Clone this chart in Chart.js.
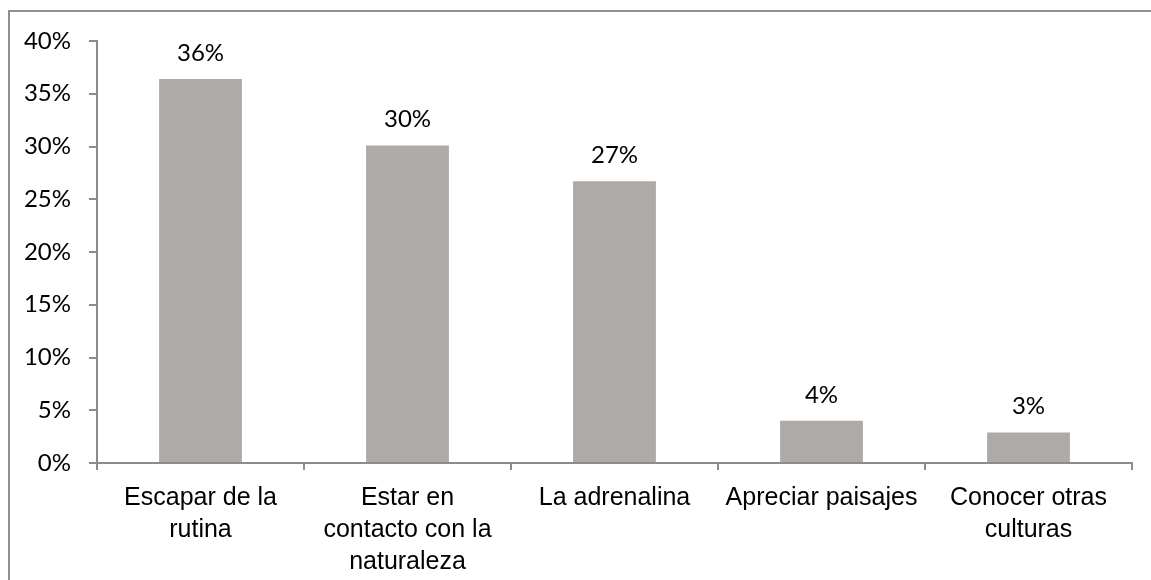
<!DOCTYPE html>
<html>
<head>
<meta charset="utf-8">
<script src="https://cdn.jsdelivr.net/npm/chart.js@4"></script>
<style>
  html, body { margin: 0; padding: 0; background: #fff; overflow: hidden; }
  .wrap { position: relative; width: 1151px; height: 580px; }
  .frame { position: absolute; left: 8px; top: 10px; width: 1200px; height: 700px; border: 2px solid #8f8f8f; box-sizing: border-box; }
  canvas { position: absolute; left: 0; top: 0; }
</style>
</head>
<body>
<div class="wrap">
  <div class="frame"></div>
  <canvas id="motivos" width="1151" height="580"></canvas>
</div>
<script>
// categories and values (percent)
const categorias = [
  ["Escapar de la", "rutina"],
  ["Estar en", "contacto con la", "naturaleza"],
  "La adrenalina",
  "Apreciar paisajes",
  ["Conocer otras", "culturas"],
];
const porcentajes = [36.4, 30.1, 26.7, 4.0, 2.9];
const yTicks = [0, 5, 10, 15, 20, 25, 30, 35, 40];

const axisGray = "#8c8c8c";
const numFont = "Lato, 'Open Sans', sans-serif";

// value labels above each bar
const etiquetas = {
  id: "etiquetas",
  afterDatasetsDraw(chart) {
    const ctx = chart.ctx;
    const meta = chart.getDatasetMeta(0);
    ctx.save();
    ctx.font = "24px " + numFont;
    ctx.fillStyle = "#000";
    ctx.textAlign = "center";
    ctx.textBaseline = "bottom";
    meta.data.forEach((bar, i) => {
      ctx.fillText(Math.round(porcentajes[i]) + "%", bar.x, bar.y - 14);
    });
    ctx.restore();
  },
};

new Chart(document.getElementById("motivos"), {
  type: "bar",
  data: {
    labels: categorias,
    datasets: [
      {
        data: porcentajes,
        backgroundColor: "#aeaaa8",
        borderWidth: 0,
        categoryPercentage: 1,
        barPercentage: 0.4,
      },
    ],
  },
  options: {
    responsive: false,
    animation: false,
    layout: { padding: { top: 41, right: 19, left: 0, bottom: 0 } },
    plugins: { legend: { display: false }, tooltip: { enabled: false } },
    scales: {
      y: {
        min: 0,
        max: 40,
        afterBuildTicks: (scale) => {
          scale.ticks = yTicks.map((v) => ({ value: v }));
        },
        afterFit: (scale) => {
          scale.width = 97;
        },
        ticks: {
          callback: (v) => v + "%",
          color: "#000",
          padding: 18,
          font: { family: numFont, size: 24 },
        },
        grid: { drawOnChartArea: false, tickLength: 8, color: axisGray, lineWidth: 2 },
        border: { color: axisGray, width: 2 },
      },
      x: {
        afterFit: (scale) => {
          scale.height = 117;
        },
        ticks: {
          color: "#000",
          padding: 12,
          maxRotation: 0,
          autoSkip: false,
          font: { family: "'Liberation Sans', Arial, sans-serif", size: 25, lineHeight: 1.28 },
        },
        grid: { offset: true, drawOnChartArea: false, tickLength: 7, color: axisGray, lineWidth: 2 },
        border: { color: axisGray, width: 2 },
      },
    },
  },
  plugins: [etiquetas],
});
</script>
</body>
</html>
